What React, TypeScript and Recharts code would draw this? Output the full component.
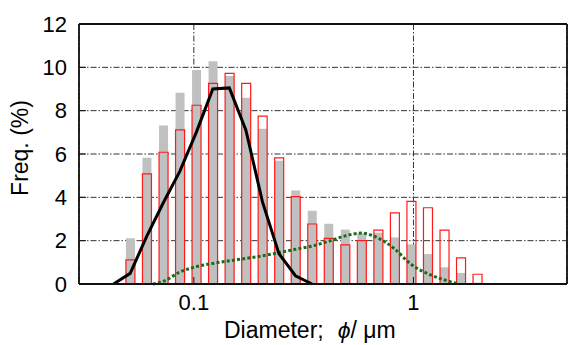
import React from 'react';
import { ComposedChart, Bar, Line, XAxis, YAxis, CartesianGrid } from 'recharts';

const binX = [0.0513, 0.061, 0.0726, 0.0863, 0.1026, 0.122, 0.1451, 0.1726, 0.2052, 0.244, 0.2902, 0.3451, 0.4104, 0.4881, 0.5804, 0.6903, 0.8209, 0.9762, 1.161, 1.381, 1.642, 1.952];
const grayFreq = [2.11, 5.83, 7.32, 8.83, 9.88, 10.28, 9.6, 8.6, 7.17, 5.69, 4.32, 3.38, 2.78, 2.51, 2.34, 2.37, 2.15, 1.83, 1.38, 0.77, 0.51, 0.06];
const redFreq = [1.11, 5.08, 6.08, 7.11, 8.25, 9.26, 9.72, 9.26, 7.75, 5.82, 4.03, 2.77, 2.11, 1.81, 2.0, 2.49, 3.28, 3.81, 3.52, 2.49, 1.21, 0.45];

const blackX = [0.0431, 0.0513, 0.061, 0.0726, 0.0863, 0.1026, 0.122, 0.1451, 0.1726, 0.2052, 0.244, 0.2902, 0.3451];
const blackY = [0, 0.49, 2.2, 3.75, 5.2, 7.0, 9.0, 9.05, 7.1, 3.8, 1.4, 0.38, 0];

const greenX = [0.0651, 0.0726, 0.0863, 0.1026, 0.122, 0.1451, 0.1726, 0.2052, 0.244, 0.2902, 0.3451, 0.4104, 0.4881, 0.5804, 0.6903, 0.8209, 0.9762, 1.161, 1.381, 1.61];
const greenY = [0, 0.12, 0.55, 0.8, 0.95, 1.07, 1.18, 1.3, 1.45, 1.6, 1.75, 1.97, 2.22, 2.35, 2.12, 1.62, 0.9, 0.48, 0.19, 0];

const xTicks = [0.1, 1];
const xTickLabels = ['0.1', '1'];
const yTicks = [0, 2, 4, 6, 8, 10, 12];
const xDomain = [0.03, 5];
const yDomain = [0, 12];

const grayData = binX.map((x, i) => ({ x, v: grayFreq[i] }));
const redData = binX.map((x, i) => ({ x, v: redFreq[i] }));
const blackData = blackX.map((x, i) => ({ x, y: blackY[i] }));
const greenData = greenX.map((x, i) => ({ x, y: greenY[i] }));

const FONT = "'Liberation Sans', Arial, Helvetica, sans-serif";
const W = 570;
const H = 345;
const PLOT_MARGIN = { top: 24, right: 3, bottom: 61, left: 79 };

function XTitle(props: any) {
  const vb = props.viewBox || { x: 79, y: 284 };
  return (
    <text x={vb.x + 145} y={vb.y + 54} fontSize={23} fontFamily={FONT} fill="#000">
      <tspan>Diameter;</tspan>
      <tspan dx={14} fontStyle="italic">ϕ</tspan>
      <tspan>/ μm</tspan>
    </text>
  );
}

function YTitle(props: any) {
  const vb = props.viewBox || { x: 0, y: 24 };
  const cx = vb.x + 28;
  const cy = vb.y + 124;
  return (
    <text x={cx} y={cy} transform={`rotate(-90, ${cx}, ${cy})`} textAnchor="middle" fontSize={23} fontFamily={FONT} fill="#000">
      Freq. (%)
    </text>
  );
}

function BarLayer(props: { data: any[]; grid?: boolean; fill: string; stroke?: string }) {
  return (
    <ComposedChart width={W} height={H} data={props.data} margin={PLOT_MARGIN}>
      {props.grid ? <CartesianGrid stroke="#333" strokeWidth={1} strokeDasharray="6 2 1.5 2" /> : null}
      <XAxis dataKey="x" type="number" scale="log" domain={xDomain} allowDataOverflow ticks={xTicks} hide />
      <YAxis type="number" domain={yDomain} ticks={yTicks} hide />
      <Bar
        dataKey="v"
        fill={props.fill}
        stroke={props.stroke}
        strokeWidth={props.stroke ? 1.2 : 0}
        barSize={9}
        isAnimationActive={false}
      />
    </ComposedChart>
  );
}

export default function App() {
  const tickStyle = { fontSize: 22, fontFamily: FONT, fill: '#000' };
  const axisLine = { stroke: '#111', strokeWidth: 1.8 };
  const tickLine = { stroke: '#111', strokeWidth: 1 };
  const layer: React.CSSProperties = { position: 'absolute', left: 0, top: 0 };
  return (
    <div style={{ position: 'absolute', left: 0, top: 0, width: W, height: H, background: '#fff' }}>
      <div style={layer}>
        <BarLayer data={grayData} grid fill="#c0c0c0" />
      </div>
      <div style={layer}>
        <BarLayer data={redData} fill="none" stroke="#ff1a1a" />
      </div>
      <div style={layer}>
        <ComposedChart width={W} height={H} data={blackData} margin={{ top: 0, right: 0, bottom: 0, left: 0 }}>
          <XAxis
            xAxisId="b"
            dataKey="x"
            type="number"
            scale="log"
            domain={xDomain}
            allowDataOverflow
            ticks={xTicks}
            tickFormatter={(v: number) => xTickLabels[xTicks.indexOf(v)] ?? String(v)}
            tick={tickStyle}
            tickSize={-7}
            tickMargin={17}
            tickLine={tickLine}
            axisLine={axisLine}
            height={61}
            label={<XTitle />}
          />
          <XAxis
            xAxisId="t"
            orientation="top"
            dataKey="x"
            type="number"
            scale="log"
            domain={xDomain}
            allowDataOverflow
            ticks={xTicks}
            tick={false}
            tickSize={-7}
            tickLine={tickLine}
            axisLine={axisLine}
            height={24}
          />
          <YAxis
            yAxisId="l"
            type="number"
            domain={yDomain}
            ticks={yTicks}
            tick={tickStyle}
            tickSize={-7}
            tickMargin={19}
            tickLine={tickLine}
            axisLine={axisLine}
            width={79}
            label={<YTitle />}
          />
          <YAxis
            yAxisId="r"
            orientation="right"
            type="number"
            domain={yDomain}
            ticks={yTicks}
            tick={false}
            tickSize={-7}
            tickLine={tickLine}
            axisLine={axisLine}
            width={3}
          />
          <Line xAxisId="b" yAxisId="l" data={greenData} dataKey="y" type="monotone" stroke="#1c6b1c" strokeWidth={3} strokeDasharray="3 2.2" dot={false} isAnimationActive={false} />
          <Line xAxisId="b" yAxisId="l" data={blackData} dataKey="y" type="linear" stroke="#000" strokeWidth={3} dot={false} isAnimationActive={false} />
        </ComposedChart>
      </div>
    </div>
  );
}
